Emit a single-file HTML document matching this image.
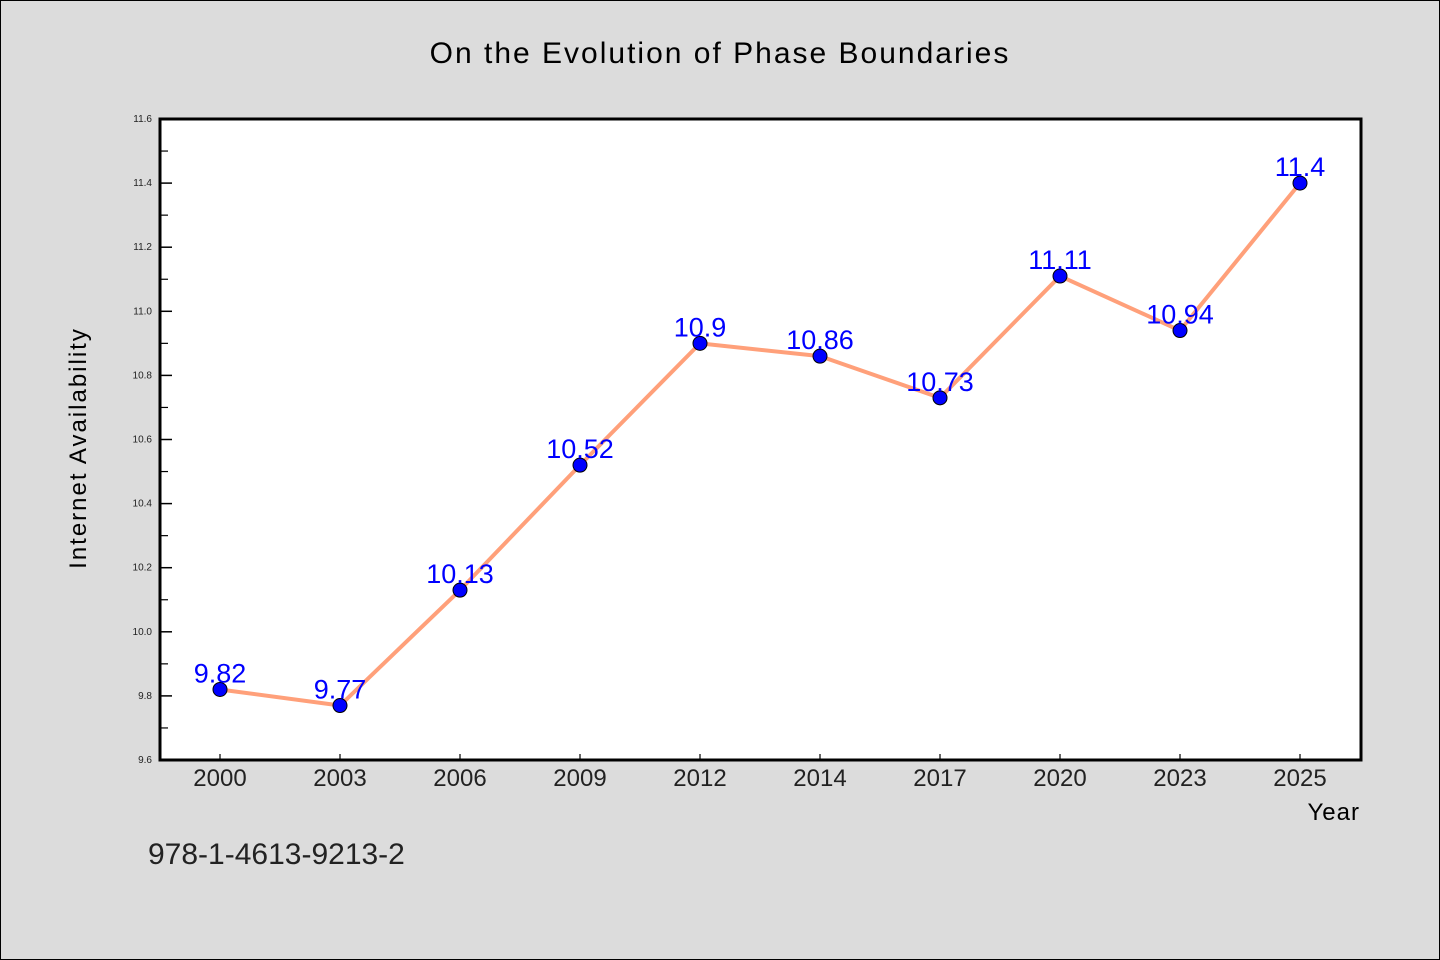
<!DOCTYPE html>
<html><head><meta charset="utf-8"><style>
body{margin:0;background:#dcdcdc;}
svg{display:block;font-family:"WenQuanYi Zen Hei","Liberation Sans",sans-serif;}
</style></head><body>
<svg id="chart" width="1440" height="960" viewBox="0 0 1440 960">
<rect x="0.5" y="0.5" width="1439" height="959" fill="#dcdcdc" stroke="#000"/>
<text x="720" y="63" text-anchor="middle" font-size="30" letter-spacing="2" fill="#000">On the Evolution of Phase Boundaries</text>
<rect x="160" y="119" width="1201" height="641" fill="#fff"/>
<g id="axes"></g>
<g id="series"></g>
<rect x="160" y="119" width="1201" height="641" fill="none" stroke="#000" stroke-width="3"/>
<text x="86" y="448" text-anchor="middle" font-size="24" letter-spacing="2" transform="rotate(-90 86 448)">Internet Availability</text>
<text x="1360" y="820" text-anchor="end" font-size="24" letter-spacing="1">Year</text>
<text x="148" y="864" font-size="30" fill="#222">978-1-4613-9213-2</text>
</svg>
<script>
const categories=["2000","2003","2006","2009","2012","2014","2017","2020","2023","2025"];
const values=[9.82,9.77,10.13,10.52,10.9,10.86,10.73,11.11,10.94,11.4];
const yTicks=[9.6,9.8,10.0,10.2,10.4,10.6,10.8,11.0,11.2,11.4,11.6];
const NS="http://www.w3.org/2000/svg";
const L=160,R=1361,T=119,B=760,yMin=9.6,yMax=11.6;
const x=i=>220+i*(1300-220)/(categories.length-1);
const y=v=>B-(v-yMin)/(yMax-yMin)*(B-T);
function mk(tag,attrs,parent){const e=document.createElementNS(NS,tag);for(const k in attrs)e.setAttribute(k,attrs[k]);parent.appendChild(e);return e;}
const ax=document.getElementById('axes'),sr=document.getElementById('series');
yTicks.forEach((t,i)=>{
  const l=mk('line',{x1:L,x2:L+12,y1:y(t),y2:y(t),stroke:'#000','stroke-width':1.5},ax);
  
  
  const tx=mk('text',{x:L-8,y:y(t)+3,'text-anchor':'end','font-size':10,fill:'#222'},ax);
  tx.textContent=t.toFixed(1);
  
  
  if(i<yTicks.length-1){
    const m=mk('line',{x1:L,x2:L+8,y1:y(t+0.1),y2:y(t+0.1),stroke:'#000','stroke-width':1.2},ax);
    
    
  }
});
categories.forEach((c,i)=>{
  const l=mk('line',{x1:x(i),x2:x(i),y1:B,y2:B-6,stroke:'#000','stroke-width':1.2},ax);
  
  
  const tx=mk('text',{x:x(i),y:B+26,'text-anchor':'middle','font-size':24,fill:'#222'},ax);
  tx.textContent=c;
  
  
});
const pl=mk('polyline',{points:values.map((v,i)=>x(i)+','+y(v)).join(' '),fill:'none',stroke:'#ffa07a','stroke-width':4,'stroke-linejoin':'round'},sr);


values.forEach((v,i)=>{
  const c=mk('circle',{cx:x(i),cy:y(v),r:7,fill:'#0000ff',stroke:'#000','stroke-width':1},sr);
  
  
  const t=mk('text',{x:x(i),y:y(v)-7,'text-anchor':'middle','font-size':27,fill:'#0000ff'},sr);
  t.textContent=String(v);
  
  
});
</script>
</body></html>
